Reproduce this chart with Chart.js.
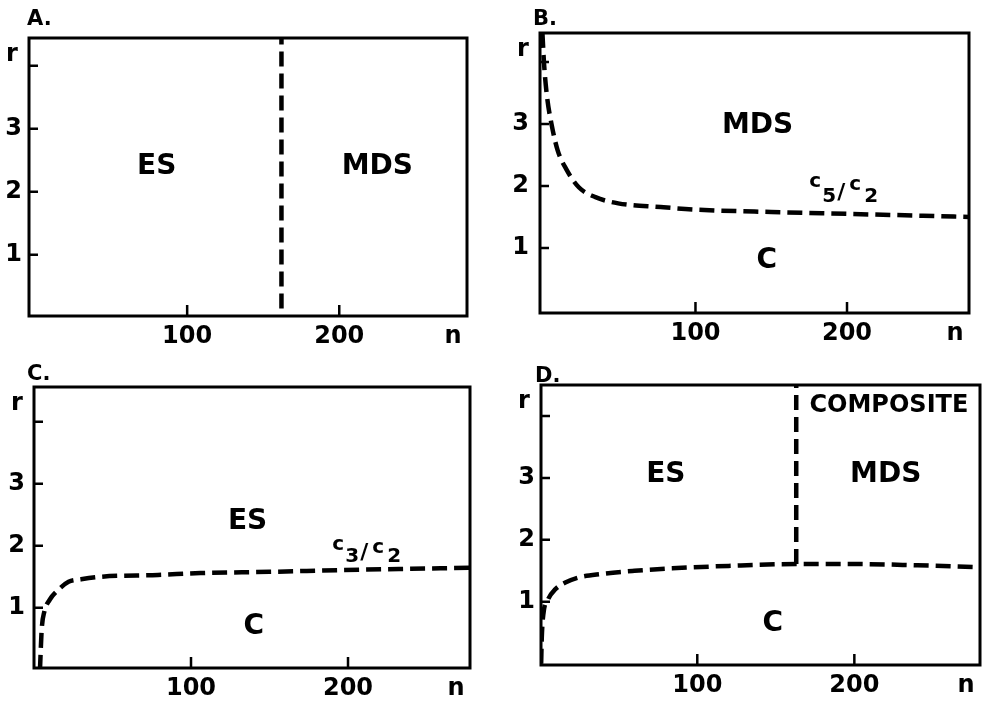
<!DOCTYPE html>
<html>
<head>
<meta charset="utf-8">
<script src="https://cdn.jsdelivr.net/npm/chart.js@4.4.1/dist/chart.umd.min.js"></script>
<style>
html, body { margin: 0; padding: 0; background: #fff; }
#wrap { position: relative; width: 986px; height: 710px; }
.panel { position: absolute; width: 493px; height: 355px; }
</style>
</head>
<body>
<div id="wrap">
  <div class="panel" style="left:0;top:0"><canvas id="chart-a" width="493" height="355"></canvas></div>
  <div class="panel" style="left:493px;top:0"><canvas id="chart-b" width="493" height="355"></canvas></div>
  <div class="panel" style="left:0;top:355px"><canvas id="chart-c" width="493" height="355"></canvas></div>
  <div class="panel" style="left:493px;top:355px"><canvas id="chart-d" width="493" height="355"></canvas></div>
</div>
<script>
// ejes comunes
const xTicks = [100, 200];
const yTicks = [1, 2, 3, 4];
const yTickLabels = ['1', '2', '3', ''];

// A: frontera vertical ES / MDS
const nA = [162, 162];
const rA = [-0.2, 4.6];

// B: curva c5/c2
const nB = [-1, 0, 2, 5, 9, 15, 23, 34, 49, 77, 100, 150, 200, 250, 281];
const rB = [4.47, 4.0, 3.45, 3.0, 2.58, 2.26, 1.98, 1.82, 1.72, 1.66, 1.62, 1.58, 1.55, 1.52, 1.5];

// C: curva c3/c2
const nC = [3.8, 4.9, 6.6, 10, 15.5, 22, 30, 42, 79, 106, 150, 197, 240, 278];
const rC = [0, 0.65, 0.94, 1.13, 1.29, 1.42, 1.46, 1.5, 1.53, 1.56, 1.58, 1.61, 1.63, 1.645];

// D: curva inferior + frontera vertical
const nD = [0.6, 1, 2, 5, 9.5, 16, 24, 39, 60, 84, 120, 163, 200, 240, 280];
const rD = [0, 0.42, 0.8, 1.04, 1.2, 1.31, 1.39, 1.45, 1.5, 1.54, 1.58, 1.61, 1.61, 1.59, 1.56];
const nDv = [163, 163];
const rDv = [1.61, 4.6];

const FONT = "'DejaVu Sans', 'Liberation Sans', sans-serif";

// marco, ticks hacia dentro y textos
const panelDecor = {
    id: 'panelDecor',
    afterDraw(chart, args, o) {
        const { ctx, chartArea: a, scales: { x, y } } = chart;
        ctx.save();
        ctx.strokeStyle = '#000';
        ctx.fillStyle = '#000';
        ctx.lineWidth = 3;
        ctx.strokeRect(a.left, a.top, a.right - a.left, a.bottom - a.top);

        ctx.lineWidth = 2.5;
        ctx.beginPath();
        yTicks.forEach(v => {
            const py = y.getPixelForValue(v);
            ctx.moveTo(a.left, py);
            ctx.lineTo(a.left + 9, py);
        });
        xTicks.forEach(v => {
            const px = x.getPixelForValue(v);
            ctx.moveTo(px, a.bottom);
            ctx.lineTo(px, a.bottom - 11);
        });
        ctx.stroke();

        ctx.textAlign = 'left';
        ctx.textBaseline = 'alphabetic';
        ctx.font = `bold 21px ${FONT}`;
        ctx.fillText(o.title, o.titlePos[0], o.titlePos[1]);

        ctx.textAlign = 'center';
        ctx.textBaseline = 'middle';
        ctx.font = `bold 24px ${FONT}`;
        ctx.fillText('r', a.left - 17, a.top + 17);
        ctx.fillText('n', a.right - 14, a.bottom + 21);

        o.labels.forEach(l => {
            ctx.font = `bold ${l.size}px ${FONT}`;
            ctx.fillText(l.text, x.getPixelForValue(l.n), y.getPixelForValue(l.r));
        });

        if (o.ratio) {
            const px = x.getPixelForValue(o.ratio.n);
            const py = y.getPixelForValue(o.ratio.r);
            const sub = o.ratio.sub;
            ctx.textAlign = 'left';
            ctx.textBaseline = 'alphabetic';
            ctx.font = `bold 20px ${FONT}`;
            ctx.fillText('c', px, py);
            ctx.fillText('c', px + 40, py + 3);
            ctx.fillText(o.ratio.top, px + 13, py + sub);
            ctx.fillText(o.ratio.bottom, px + 55, py + sub);
            ctx.font = `bold 22px ${FONT}`;
            ctx.fillText('/', px + 28, py + sub - 3);
        }
        ctx.restore();
    }
};

function makePanel(canvasId, cfg) {
    const datasets = cfg.series.map(s => ({
        data: s.n.map((n, i) => ({ x: n, y: s.r[i] })),
        showLine: true,
        borderColor: '#000',
        borderWidth: 4.5,
        borderDash: [15, 7],
        pointRadius: 0,
        fill: false,
        cubicInterpolationMode: s.smooth ? 'monotone' : 'default',
        tension: 0
    }));

    const tickFont = { size: 24, family: FONT, weight: 'bold' };

    return new Chart(document.getElementById(canvasId), {
        type: 'scatter',
        data: { datasets },
        options: {
            responsive: false,
            animation: false,
            layout: { padding: { top: cfg.pad.top, right: cfg.pad.right, left: 0, bottom: 0 } },
            scales: {
                x: {
                    type: 'linear',
                    min: cfg.xMin,
                    max: cfg.xMax,
                    afterBuildTicks: s => { s.ticks = xTicks.map(v => ({ value: v })); },
                    afterFit: s => { s.height = cfg.pad.bottom; },
                    grid: { display: false, drawTicks: false },
                    border: { display: false },
                    ticks: { padding: 6, font: tickFont, color: '#000', maxRotation: 0, autoSkip: false }
                },
                y: {
                    type: 'linear',
                    min: cfg.yMin,
                    max: cfg.yMax,
                    afterBuildTicks: s => { s.ticks = yTicks.map(v => ({ value: v })); },
                    afterFit: s => { s.width = cfg.pad.left; },
                    grid: { display: false, drawTicks: false },
                    border: { display: false },
                    ticks: {
                        padding: cfg.yPad,
                        font: tickFont,
                        color: '#000',
                        autoSkip: false,
                        callback: v => yTickLabels[yTicks.indexOf(v)] ?? ''
                    }
                }
            },
            plugins: {
                legend: { display: false },
                tooltip: { enabled: false },
                panelDecor: cfg.decor
            }
        },
        plugins: [panelDecor]
    });
}

document.addEventListener('DOMContentLoaded', () => {
    makePanel('chart-a', {
        pad: { left: 29, top: 38, right: 26, bottom: 39 },
        yPad: 7,
        xMin: -4, xMax: 284, yMin: 0.03, yMax: 4.44,
        series: [{ n: nA, r: rA }],
        decor: {
            title: 'A.', titlePos: [27, 25],
            labels: [
                { text: 'ES', n: 80, r: 2.4, size: 28 },
                { text: 'MDS', n: 225, r: 2.4, size: 28 }
            ]
        }
    });

    makePanel('chart-b', {
        pad: { left: 47, top: 33, right: 17, bottom: 42 },
        yPad: 11,
        xMin: -2.6, xMax: 280.5, yMin: -0.05, yMax: 4.47,
        series: [{ n: nB, r: rB, smooth: true }],
        decor: {
            title: 'B.', titlePos: [40, 25],
            labels: [
                { text: 'MDS', n: 141, r: 2.98, size: 28 },
                { text: 'C', n: 147, r: 0.79, size: 28 }
            ],
            ratio: { n: 175, r: 1.98, top: '5', bottom: '2', sub: 15 }
        }
    });

    makePanel('chart-c', {
        pad: { left: 34, top: 32, right: 23, bottom: 42 },
        yPad: 9,
        xMin: 0, xMax: 277.7, yMin: 0.03, yMax: 4.56,
        series: [{ n: nC, r: rC, smooth: true }],
        decor: {
            title: 'C.', titlePos: [27, 25],
            labels: [
                { text: 'ES', n: 136, r: 2.39, size: 28 },
                { text: 'C', n: 140, r: 0.69, size: 28 }
            ],
            ratio: { n: 190, r: 1.94, top: '3', bottom: '2', sub: 12 }
        }
    });

    makePanel('chart-d', {
        pad: { left: 48, top: 30, right: 6, bottom: 45 },
        yPad: 6,
        xMin: 0.5, xMax: 280, yMin: -0.02, yMax: 4.5,
        series: [{ n: nD, r: rD, smooth: true }, { n: nDv, r: rDv }],
        decor: {
            title: 'D.', titlePos: [42, 27],
            labels: [
                { text: 'ES', n: 80, r: 3.05, size: 28 },
                { text: 'MDS', n: 220, r: 3.05, size: 28 },
                { text: 'COMPOSITE', n: 222, r: 4.16, size: 24 },
                { text: 'C', n: 148, r: 0.65, size: 28 }
            ]
        }
    });
});
</script>
</body>
</html>
